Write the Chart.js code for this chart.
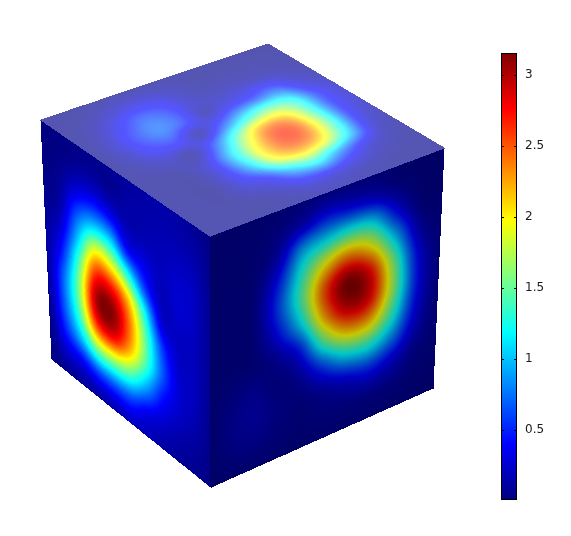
<!DOCTYPE html>
<html>
<head>
<meta charset="utf-8">
<style>
  html, body { margin: 0; background: #fff; }
  #wrap { position: relative; width: 571px; height: 536px; overflow: hidden; }
  #cube { position: absolute; left: 0; top: 0; }
  #bar { position: absolute; left: 480px; top: 0; }
</style>
</head>
<body>
<div id="wrap">
  <canvas id="cube" width="571" height="536"></canvas>
  <canvas id="bar" width="91" height="536"></canvas>
</div>
<script src="https://cdn.jsdelivr.net/npm/chart.js@4"></script>
<script>
// values, outer list runs along the first cube edge, inner along the second
const leftFace = [
  [.01,.01,.02,.05,.08,.10,.10,.08,.04,.02,.02],
  [.02,.03,.08,.15,.30,.50,.70,.70,.55,.28,.06],
  [.03,.08,.30,.68,1.05,1.45,1.65,1.5,1.05,.40,.08],
  [.05,.12,.42,1.05,1.95,2.65,3.0,2.6,1.6,.60,.10],
  [.07,.08,.35,1.0,1.85,2.7,3.12,2.8,1.65,.65,.15],
  [.10,.12,.18,.45,1.3,2.15,2.45,2.25,1.45,.62,.20],
  [.12,.14,.17,.32,.60,1.2,1.5,1.45,.95,.38,.18],
  [.14,.15,.18,.20,.20,.32,.62,.70,.45,.24,.12],
  [.12,.15,.20,.25,.25,.22,.24,.28,.25,.15,.08],
  [.08,.12,.18,.22,.22,.20,.20,.20,.16,.10,.06],
  [.03,.05,.06,.07,.07,.07,.07,.06,.05,.04,.03]
];
const rightFace = [
  [.02,.02,.03,.03,.03,.03,.03,.04,.04,.03,.02],
  [.02,.03,.03,.04,.04,.04,.05,.10,.13,.10,.03],
  [.03,.04,.05,.08,.10,.08,.06,.14,.17,.12,.04],
  [.04,.10,.25,.50,.62,.45,.18,.08,.10,.08,.03],
  [.08,.25,.90,1.3,1.45,1.15,.55,.22,.08,.05,.03],
  [.08,.45,1.15,2.0,2.5,2.27,1.56,.70,.20,.08,.04],
  [.08,.40,1.3,2.35,3.1,2.95,2.2,1.18,.37,.10,.04],
  [.07,.30,1.15,2.0,2.75,2.8,2.2,1.3,.52,.12,.04],
  [.03,.12,.50,1.1,1.6,1.7,1.4,.90,.36,.10,.03],
  [.02,.03,.08,.25,.45,.52,.45,.30,.12,.05,.02],
  [.01,.02,.03,.05,.06,.07,.06,.05,.03,.02,.01]
];
const topFace = [
  [.02,.02,.02,.03,.03,.04,.03,.03,.02,.02,.02],
  [.02,.04,.13,.25,.25,.13,.05,.05,.05,.04,.03],
  [.03,.11,.35,.58,.48,.20,.12,.15,.15,.10,.05],
  [.02,.18,.49,.69,.50,.12,.35,.50,.65,.25,.10],
  [.03,.15,.37,.42,.10,.60,1.2,1.55,1.3,.50,.18],
  [.03,.07,.14,.08,.65,1.55,2.34,2.35,1.5,.50,.18],
  [.03,.04,.06,.30,1.08,2.02,2.6,2.5,1.55,.45,.13],
  [.03,.03,.04,.30,.95,1.9,2.27,2.02,1.2,.30,.07],
  [.03,.03,.03,.20,.40,.95,1.25,.80,.35,.12,.04],
  [.03,.03,.03,.05,.15,.30,.30,.20,.10,.04,.03],
  [.03,.03,.03,.03,.05,.08,.08,.06,.04,.03,.02]
];
const colorTicks = [0.5, 1, 1.5, 2, 2.5, 3];
const colorMin = 0.01, colorMax = 3.155;

// cube corners on the hidden x/y axes: start, end of 1st edge, end of 2nd edge, far corner
const leftCorners = [[41,120],[210,236],[52,359],[211,487]];
const rightCorners = [[210,236],[444,148],[211,487],[433,388]];
const topCorners = [[41,120],[210,236],[268,44],[444,148]];

const SUB = 60;

function clamp01(a){ return Math.max(0, Math.min(1, a)); }

function jet(value){
  const t = clamp01((value - colorMin) / (colorMax - colorMin));
  return [
    clamp01(1.5 - Math.abs(4 * t - 3)) * 255,
    clamp01(1.5 - Math.abs(4 * t - 2)) * 255,
    clamp01(1.5 - Math.abs(4 * t - 1)) * 255
  ];
}

function nodes(grid, corners){
  const out = [];
  const n = grid.length - 1, m = grid[0].length - 1;
  grid.forEach((col, i) => col.forEach((v, j) => {
    const a = i / n, b = j / m;
    const w = [(1-a)*(1-b), a*(1-b), (1-a)*b, a*b];
    out.push({
      x: w[0]*corners[0][0] + w[1]*corners[1][0] + w[2]*corners[2][0] + w[3]*corners[3][0],
      y: w[0]*corners[0][1] + w[1]*corners[1][1] + w[2]*corners[2][1] + w[3]*corners[3][1],
      v: v
    });
  }));
  return out;
}

// smooth shading between the read values, only for painting
function cubic(p0, p1, p2, p3, t){
  return p1 + 0.5 * t * (p2 - p0 + t * (2*p0 - 5*p1 + 4*p2 - p3 + t * (3*(p1 - p2) + p3 - p0)));
}
function sample(grid, i, j, s, t){
  const n = grid.length - 1, m = grid[0].length - 1;
  const row = [];
  for(let a = -1; a <= 2; a++){
    const col = grid[Math.max(0, Math.min(n, i + a))];
    const g = b => col[Math.max(0, Math.min(m, j + b))];
    row.push(cubic(g(-1), g(0), g(1), g(2), t));
  }
  return cubic(row[0], row[1], row[2], row[3], s);
}

const shadePlugin = {
  id: 'shade',
  beforeDatasetsDraw(chart){
    const ctx = chart.ctx;
    const w = chart.width, h = chart.height;
    const img = ctx.getImageData(0, 0, w, h);
    chart.data.datasets.forEach((ds, idx) => {
      const pts = chart.getDatasetMeta(idx).data;
      const grid = ds.grid;
      const n = grid.length - 1, m = grid[0].length - 1;
      const at = (i, j) => pts[i * (m + 1) + j];
      for(let i = 0; i < n; i++){
        for(let j = 0; j < m; j++){
          const p00 = at(i,j), p10 = at(i+1,j), p01 = at(i,j+1), p11 = at(i+1,j+1);
          for(let a = 0; a <= SUB; a++){
            for(let b = 0; b <= SUB; b++){
              const s = a / SUB, t = b / SUB;
              const x = Math.floor((1-s)*(1-t)*p00.x + s*(1-t)*p10.x + (1-s)*t*p01.x + s*t*p11.x);
              const y = Math.floor((1-s)*(1-t)*p00.y + s*(1-t)*p10.y + (1-s)*t*p01.y + s*t*p11.y);
              if(x < 0 || y < 0 || x >= w || y >= h) continue;
              const c = jet(sample(grid, i, j, s, t));
              const k = (y * w + x) * 4;
              img.data[k] = Math.min(255, c[0] * ds.gain + ds.lift);
              img.data[k+1] = Math.min(255, c[1] * ds.gain + ds.lift);
              img.data[k+2] = Math.min(255, c[2] * ds.gain + ds.lift);
              img.data[k+3] = 255;
            }
          }
        }
      }
    });
    ctx.putImageData(img, 0, 0);
  }
};

new Chart(document.getElementById('cube'), {
  type: 'scatter',
  data: {
    datasets: [
      { label: 'left', grid: leftFace, data: nodes(leftFace, leftCorners), gain: 1, lift: 0, pointRadius: 0 },
      { label: 'right', grid: rightFace, data: nodes(rightFace, rightCorners), gain: 0.78, lift: 0, pointRadius: 0 },
      { label: 'top', grid: topFace, data: nodes(topFace, topCorners), gain: 0.7, lift: 85, pointRadius: 0 }
    ]
  },
  options: {
    responsive: false,
    animation: false,
    layout: { padding: 0 },
    plugins: { legend: { display: false }, tooltip: { enabled: false } },
    scales: {
      x: { type: 'linear', display: false, min: 0, max: 571 },
      y: { type: 'linear', display: false, min: 0, max: 536, reverse: true }
    }
  },
  plugins: [shadePlugin]
});

const barFrame = {
  id: 'barFrame',
  afterDatasetsDraw(chart){
    const { ctx, chartArea: a, scales } = chart;
    ctx.save();
    ctx.strokeStyle = '#000';
    ctx.lineWidth = 1;
    ctx.strokeRect(Math.round(a.left) + 0.5, Math.round(a.top) + 0.5, Math.round(a.width) - 1, Math.round(a.height) - 1);
    ctx.beginPath();
    colorTicks.forEach(t => {
      const y = Math.round(scales.y.getPixelForValue(t)) + 0.5;
      ctx.moveTo(a.left, y); ctx.lineTo(a.left + 3, y);
      ctx.moveTo(a.right - 3, y); ctx.lineTo(a.right, y);
    });
    ctx.stroke();
    ctx.restore();
  }
};

function barGradient(c){
  const chart = c.chart;
  if(!chart.chartArea) return '#00f';
  const y = chart.scales.y;
  const g = chart.ctx.createLinearGradient(0, y.getPixelForValue(colorMin), 0, y.getPixelForValue(colorMax));
  for(let i = 0; i <= 16; i++){
    const t = i / 16;
    const k = jet(colorMin + t * (colorMax - colorMin)).map(Math.round);
    g.addColorStop(t, `rgb(${k[0]},${k[1]},${k[2]})`);
  }
  return g;
}

new Chart(document.getElementById('bar'), {
  type: 'bar',
  data: {
    labels: ['value'],
    datasets: [{
      data: [[colorMin, colorMax]],
      backgroundColor: barGradient,
      borderSkipped: false,
      barPercentage: 1,
      categoryPercentage: 1
    }]
  },
  options: {
    responsive: false,
    animation: false,
    layout: { padding: { top: 53, bottom: 36, left: 21, right: 0 } },
    plugins: { legend: { display: false }, tooltip: { enabled: false } },
    scales: {
      x: { display: false },
      y: {
        position: 'right',
        min: colorMin,
        max: colorMax,
        border: { display: false },
        grid: { display: false, drawTicks: false },
        afterBuildTicks(scale){ scale.ticks = colorTicks.map(v => ({ value: v })); },
        afterFit(scale){ scale.width = 54; },
        ticks: {
          padding: 8,
          color: '#1a1a1a',
          font: { family: 'DejaVu Sans', size: 12 },
          callback: v => String(v)
        }
      }
    }
  },
  plugins: [barFrame]
});
</script>
</body>
</html>
